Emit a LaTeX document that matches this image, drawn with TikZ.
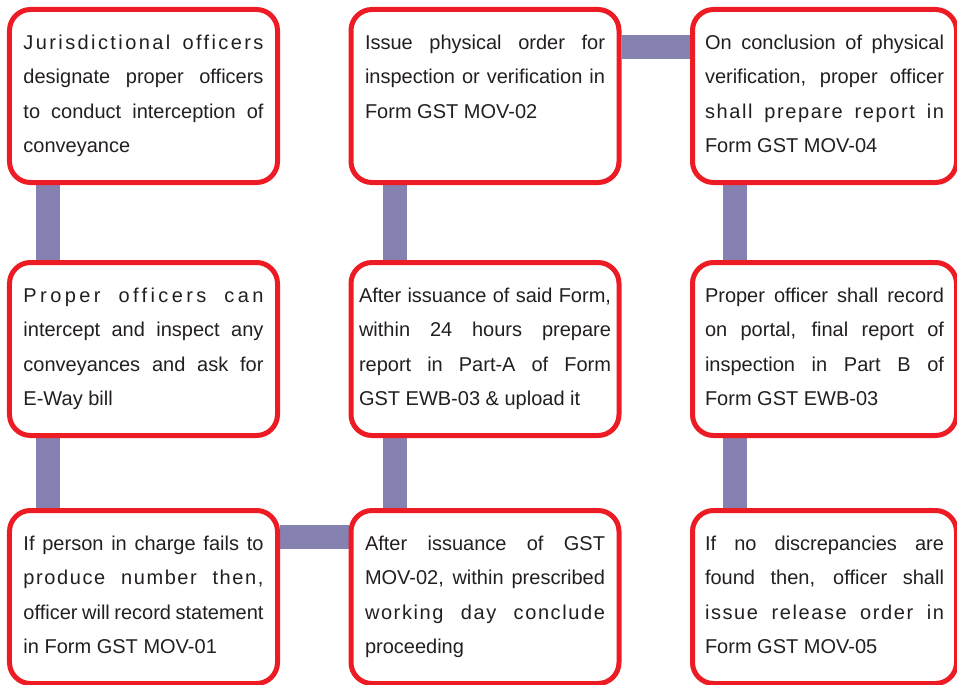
\documentclass[tikz,border=0pt]{standalone}
\usepackage{fontspec}
\setmainfont{Liberation Sans}
\usepackage{xcolor}
\usetikzlibrary{backgrounds}
\definecolor{boxred}{HTML}{ED1C24}
\definecolor{barpurple}{HTML}{8581B1}
\definecolor{inkgray}{HTML}{231F20}
\newcommand{\tracked}[2]{{\addfontfeature{LetterSpace=#1}#2}}
\tolerance=10000
\hyphenpenalty=10000
\hbadness=10000

\begin{document}
\begin{tikzpicture}[x=1bp, y=1bp,
    box/.style={draw=boxred, line width=5bp, rounded corners=21bp, fill=white,
        text=inkgray, font=\fontsize{20bp}{34.4bp}\selectfont,
        text width=240bp, align=justify, inner xsep=14bp, inner ysep=0pt,
        text height=40bp, text depth=133bp},
    bar/.style={draw=barpurple, line width=24bp}]
    \useasboundingbox (0,0) rectangle (957,-685);

    % Column 1
    \node[box] (designate) at (143.5,-96) {\tracked{12}{Jurisdictional officers}\linebreak
        designate proper officers\linebreak to conduct interception of\linebreak conveyance};
    \node[box] (intercept) at (143.5,-349) {\tracked{17}{Proper officers can}\linebreak
        intercept and inspect any\linebreak conveyances and ask for\linebreak E-Way bill};
    \node[box] (record) at (143.5,-597) {If person in charge fails to\linebreak
        \tracked{8}{produce number then,}\linebreak officer will record statement\linebreak
        in Form GST MOV-01};

    % Column 2
    \node[box] (order) at (485,-96) {Issue physical order for\linebreak
        inspection or verification in\linebreak Form GST MOV-02};
    \node[box, text width=252bp, inner xsep=8bp] (partA) at (485,-349) {After issuance of said Form,\linebreak
        within 24 hours prepare\linebreak report in Part-A of Form\linebreak GST EWB-03 \& upload it};
    \node[box] (proceed) at (485,-597) {After issuance of GST\linebreak
        MOV-02, within prescribed\linebreak \tracked{8}{working day conclude}\linebreak proceeding};

    % Column 3
    \node[box, text width=239bp, inner xsep=12.5bp] (report) at (824.5,-96) {On conclusion of physical\linebreak
        verification, proper officer\linebreak \tracked{8}{shall prepare report in}\linebreak Form GST MOV-04};
    \node[box, text width=239bp, inner xsep=12.5bp] (partB) at (824.5,-349) {Proper officer shall record\linebreak
        on portal, final report of\linebreak inspection in Part B of\linebreak Form GST EWB-03};
    \node[box, text width=239bp, inner xsep=12.5bp] (release) at (824.5,-597) {If no discrepancies are\linebreak
        found then, officer shall\linebreak \tracked{8}{issue release order in}\linebreak Form GST MOV-05};

    % Links
    \begin{pgfonlayer}{background}
        \draw[bar] ([xshift=41.5bp]designate.south west) -- ([xshift=41.5bp]intercept.north west);
        \draw[bar] ([xshift=41.5bp]intercept.south west) -- ([xshift=41.5bp]record.north west);
        \draw[bar] ([yshift=-28.5bp]record.north east) -- ([yshift=-28.5bp]proceed.north west);
        \draw[bar] ([xshift=46bp]proceed.north west) -- ([xshift=46bp]partA.south west);
        \draw[bar] ([xshift=46bp]partA.north west) -- ([xshift=46bp]order.south west);
        \draw[bar] ([yshift=-40.5bp]order.north east) -- ([yshift=-40.5bp]report.north west);
        \draw[bar] ([xshift=45bp]report.south west) -- ([xshift=45bp]partB.north west);
        \draw[bar] ([xshift=45bp]partB.south west) -- ([xshift=45bp]release.north west);
    \end{pgfonlayer}
\end{tikzpicture}
\end{document}
